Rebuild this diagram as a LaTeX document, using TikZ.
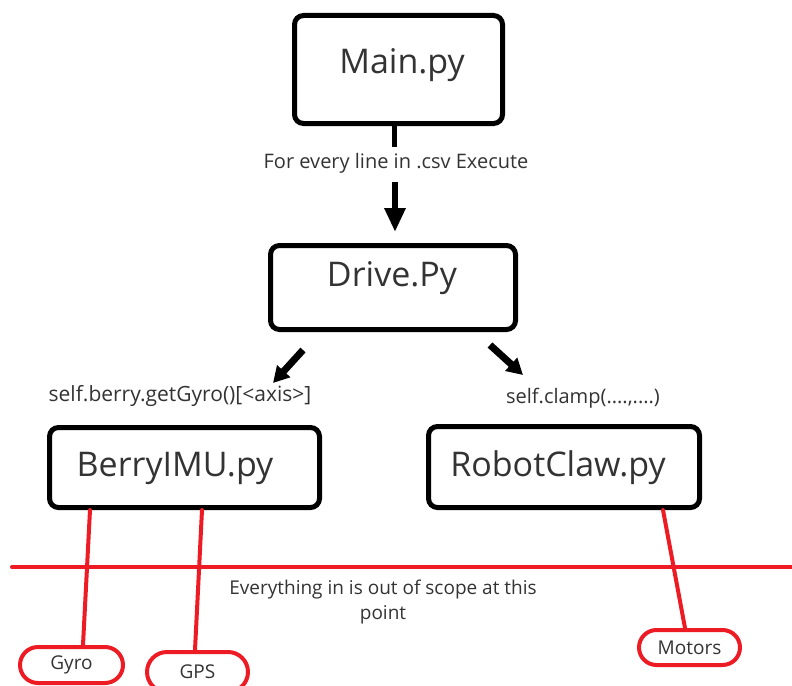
\documentclass[tikz,border=0pt]{standalone}
\usepackage{fontspec}
\setmainfont{Open Sans}
\usepackage{xcolor}
\usepackage{tikz}
\usetikzlibrary{positioning}
\usetikzlibrary{arrows.meta}
\usetikzlibrary{shapes.misc}

\definecolor{PaintRed}{RGB}{237,28,36}
\definecolor{InkGray}{RGB}{51,51,51}

\tikzset{
	filebox/.style={draw=black, line width=5pt, rounded corners=9pt, inner sep=0pt},
	filename/.style={text=InkGray, inner sep=0pt, font=\fontsize{34}{40}\selectfont},
	calltext/.style={text=InkGray, inner sep=0pt, font=\fontsize{20}{25}\selectfont},
	callarrow/.style={line width=6pt, -{Triangle[width=20pt,length=24pt]}},
	sidearrow/.style={line width=7pt, -{Triangle[width=17pt,length=16pt]}},
	scopeline/.style={draw=PaintRed, line width=4pt, line cap=round},
	devicepill/.style={rounded rectangle, draw=PaintRed, line width=4pt, text=InkGray,
		font=\fontsize{19}{22}\selectfont, inner xsep=0pt, inner ysep=0pt},
}

\begin{document}
\begin{tikzpicture}[x=1pt, y=-1pt]
	
	% NOTE: Y AXIS POINTS DOWN, SO EVERY POSITION IS (PIXELS FROM LEFT, PIXELS FROM TOP)
	\useasboundingbox (0,0) rectangle (792,685);
	
	% The four script boxes, drawn empty; their names are set as separate nodes
	\node[filebox, minimum width=208pt, minimum height=108pt] (Main)  at (398.5,69.5) {};
	\node[filebox, minimum width=245pt, minimum height=84pt]  (Drive) at (393,287.5) {};
	\node[filebox, minimum width=270pt, minimum height=80pt]  (Berry) at (184.5,467.5) {};
	\node[filebox, minimum width=271pt, minimum height=81pt]  (Claw)  at (564,467) {};
	
	\node[filename] (MainName)  at (402,65)  {Main.py};
	\node[filename] (DriveName) at (392,278) {Drive.Py};
	\node[filename] (BerryName) at (175,468) {BerryIMU.py};
	\node[filename] (ClawName)  at (558,468) {RobotClaw.py};
	
	%%%%%%%%%%%%%%%%%%%%%%%%%%%%%%%%%%%%%%%%%%%%%%%%%%%%%%%%%%%%%%
	% Main -> Drive
	\coordinate (MainStub) at (394,147);
	\coordinate (ExecTail) at (395,182);
	\coordinate (ExecTip)  at (395,232);
	
	\draw[line width=5pt] ([xshift=-4.5pt]Main.south) -- (MainStub);
	\node[calltext] (ExecText) at (396,163) {For every line in .csv Execute};
	\draw[callarrow] (ExecTail) -- (ExecTip);
	
	%%%%%%%%%%%%%%%%%%%%%%%%%%%%%%%%%%%%%%%%%%%%%%%%%%%%%%%%%%%%%%
	% Drive -> BerryIMU and RobotClaw
	\coordinate (GyroTail) at (303,350);
	\coordinate (GyroTip)  at (273,383);
	\coordinate (ClampTail) at (490,345);
	\coordinate (ClampTip)  at (523,375);
	
	\draw[sidearrow] (GyroTail) -- (GyroTip);
	\draw[sidearrow] (ClampTail) -- (ClampTip);
	
	\node[calltext, font=\fontsize{21}{25}\selectfont] (GyroCall) at (180,396) {self.berry.getGyro()[<axis>]};
	\node[calltext] (ClampCall) at (583,398) {self.clamp(....,....)};
	
	%%%%%%%%%%%%%%%%%%%%%%%%%%%%%%%%%%%%%%%%%%%%%%%%%%%%%%%%%%%%%%
	% Scope border and the hardware below it
	\coordinate (ScopeW) at (12,567);
	\coordinate (ScopeE) at (800,567);
	\draw[scopeline] (ScopeW) -- (ScopeE);
	
	\node[calltext, align=center, font=\fontsize{19}{25}\selectfont] (ScopeNote) at (383,602)
		{Everything in is out of scope at this\\point};
	
	\node[devicepill, minimum width=103pt, minimum height=36pt] (Gyro)   at (71.5,665)   {Gyro};
	\node[devicepill, minimum width=101pt, minimum height=40pt] (GPS)    at (197.5,672)  {GPS};
	\node[devicepill, minimum width=101pt, minimum height=35pt] (Motors) at (689.5,647.5) {Motors};
	
	\draw[scopeline] ([xshift=-94.5pt]Berry.south) -- ([xshift=11.5pt]Gyro.north);
	\draw[scopeline] ([xshift=17.5pt]Berry.south)  -- ([xshift=-2.5pt]GPS.north);
	\draw[scopeline] ([xshift=99pt]Claw.south)     -- ([xshift=-4.5pt]Motors.north);
	
\end{tikzpicture}
\end{document}
